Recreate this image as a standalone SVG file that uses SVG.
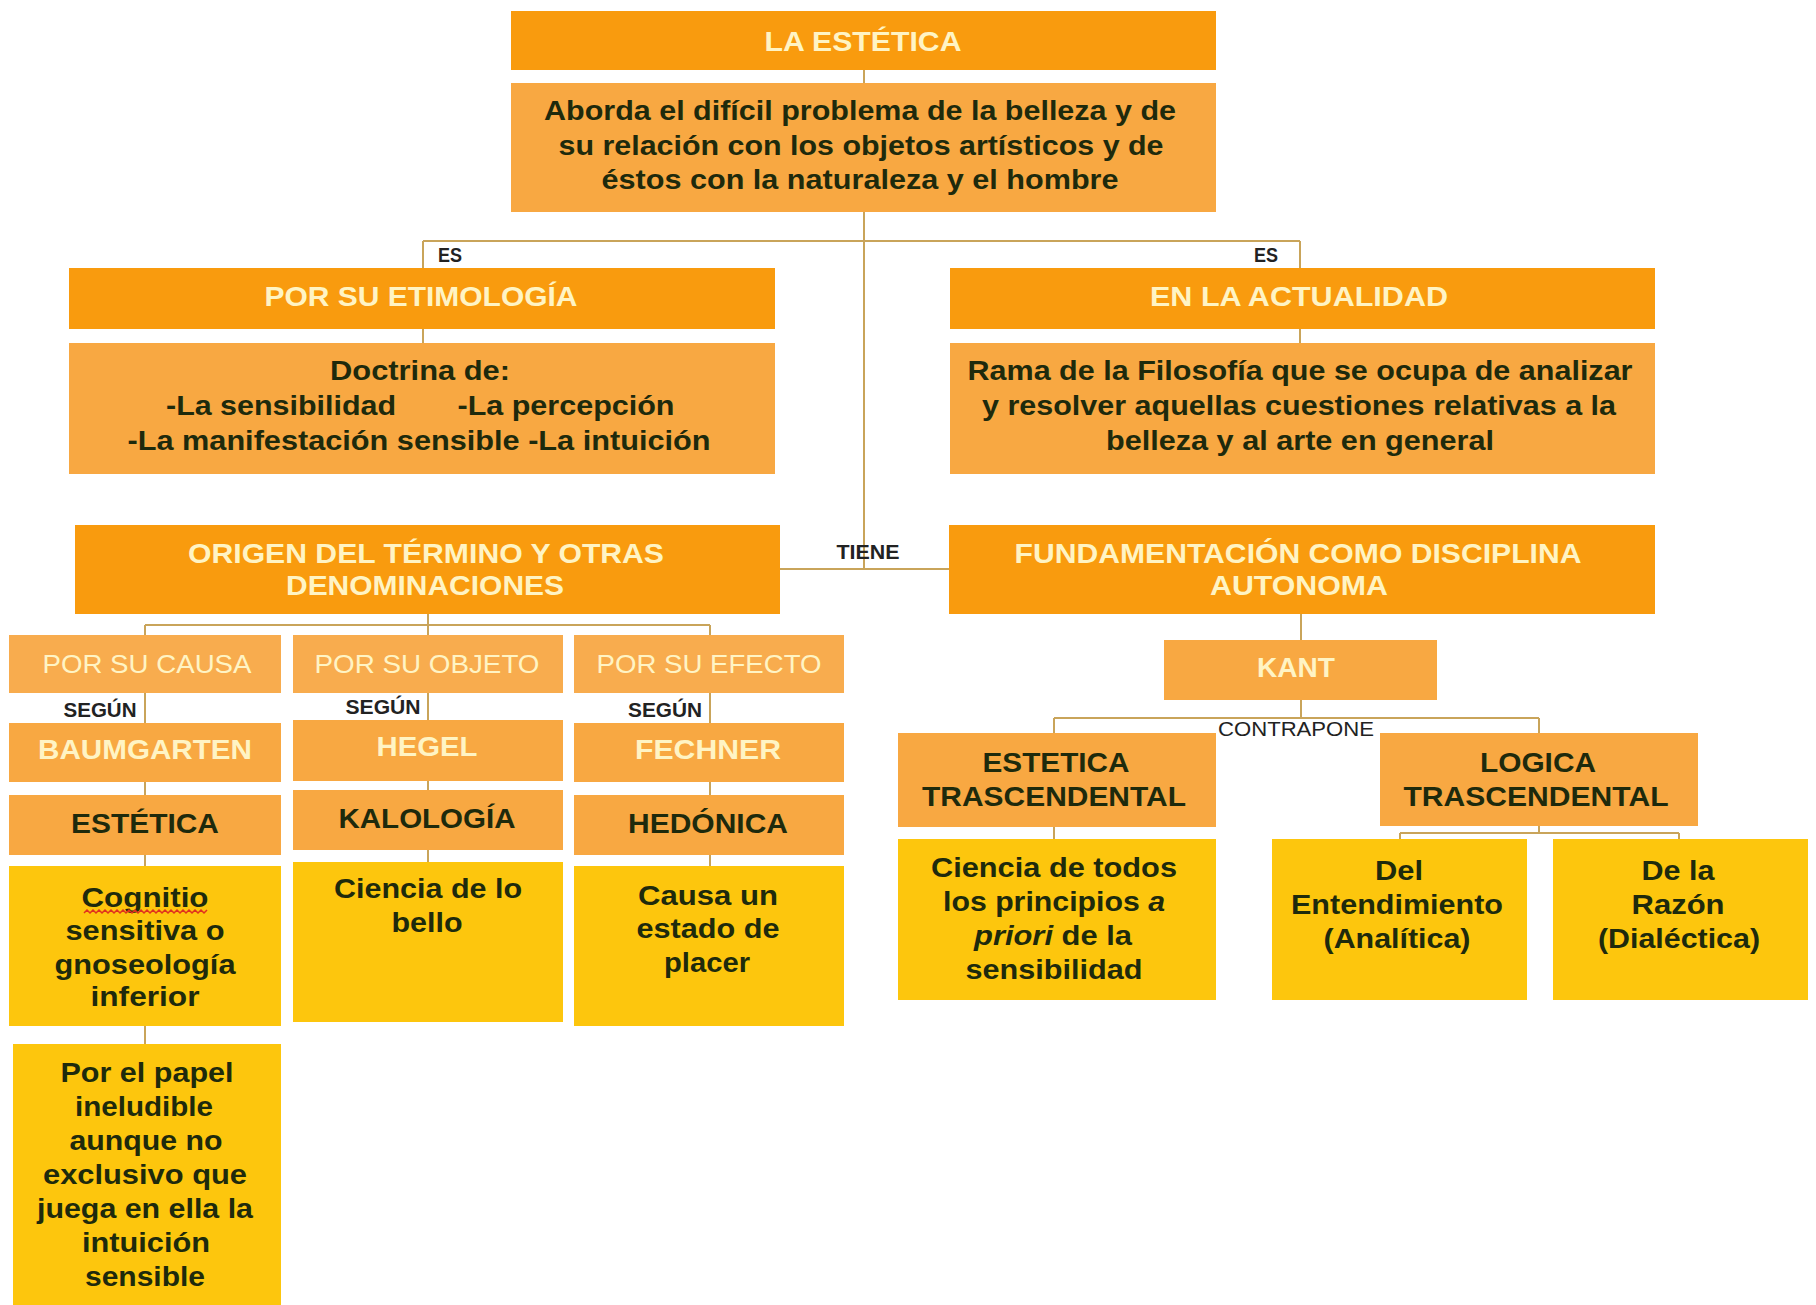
<svg xmlns="http://www.w3.org/2000/svg" width="1816" height="1305" viewBox="0 0 1816 1305">
<style>
.hd{fill:#F99B0E}
.bd{fill:#F8A842}
.lt{fill:#F8AC4E}
.yl{fill:#FDC60D}
.ln{stroke:#C9A45A;stroke-width:2;fill:none}
text{font-family:"Liberation Sans",Arial,sans-serif;text-anchor:middle}
.tc{font-weight:bold;fill:#FFF4C4;font-size:28px}
.tn{font-weight:normal;fill:#FFF4C4;font-size:25px}
.td{font-weight:bold;fill:#1E2A0C;font-size:28px}
.lb{font-weight:bold;fill:#222;font-size:20px}
.lr{font-weight:normal;fill:#222;font-size:20px}
</style>
<rect width="1816" height="1305" fill="#FFFFFF"/>
<g id="connectors">
<path class="ln" d="M864 69 V569"/>
<path class="ln" d="M423 241 H1300"/>
<path class="ln" d="M423 241 V343"/>
<path class="ln" d="M1300 241 V343"/>
<path class="ln" d="M780 569 H949"/>
<path class="ln" d="M428 614 V625"/>
<path class="ln" d="M145 625 H710"/>
<path class="ln" d="M145 625 V1044"/>
<path class="ln" d="M428 625 V862"/>
<path class="ln" d="M710 625 V866"/>
<path class="ln" d="M1301 614 V718"/>
<path class="ln" d="M1054 718 H1539"/>
<path class="ln" d="M1054 718 V839"/>
<path class="ln" d="M1539 718 V833"/>
<path class="ln" d="M1400 833 H1679"/>
<path class="ln" d="M1400 833 V839"/>
<path class="ln" d="M1679 833 V839"/>
</g>
<g id="labels">
<text class="lb" x="450" y="262" textLength="24" lengthAdjust="spacingAndGlyphs">ES</text>
<text class="lb" x="1266" y="262" textLength="24" lengthAdjust="spacingAndGlyphs">ES</text>
<text class="lb" x="868" y="559" font-size="21" textLength="63" lengthAdjust="spacingAndGlyphs">TIENE</text>
<text class="lb" x="100" y="717" textLength="73" lengthAdjust="spacingAndGlyphs">SEGÚN</text>
<text class="lb" x="383" y="714" textLength="75" lengthAdjust="spacingAndGlyphs">SEGÚN</text>
<text class="lb" x="665" y="717" textLength="74" lengthAdjust="spacingAndGlyphs">SEGÚN</text>
<text class="lr" x="1296" y="736" textLength="156" lengthAdjust="spacingAndGlyphs">CONTRAPONE</text>
</g>
<g id="n-estetica">
<rect class="hd" x="511" y="11" width="705" height="59"/>
<text class="tc" x="863" y="51" textLength="197" lengthAdjust="spacingAndGlyphs">LA ESTÉTICA</text>
</g>
<g id="n-aborda">
<rect class="bd" x="511" y="83" width="705" height="129"/>
<text class="td" x="860" y="120" textLength="632" lengthAdjust="spacingAndGlyphs">Aborda el difícil problema de la belleza y de</text>
<text class="td" x="861" y="155" textLength="605" lengthAdjust="spacingAndGlyphs">su relación con los objetos artísticos y de</text>
<text class="td" x="860" y="189" textLength="517" lengthAdjust="spacingAndGlyphs">éstos con la naturaleza y el hombre</text>
</g>
<g id="n-etimologia">
<rect class="hd" x="69" y="268" width="706" height="61"/>
<text class="tc" x="421" y="306" textLength="313" lengthAdjust="spacingAndGlyphs">POR SU ETIMOLOGÍA</text>
</g>
<g id="n-doctrina">
<rect class="bd" x="69" y="343" width="706" height="131"/>
<text class="td" x="420" y="380" textLength="180" lengthAdjust="spacingAndGlyphs">Doctrina de:</text>
<text class="td" x="281" y="415" textLength="230" lengthAdjust="spacingAndGlyphs">-La sensibilidad</text>
<text class="td" x="566" y="415" textLength="217" lengthAdjust="spacingAndGlyphs">-La percepción</text>
<text class="td" x="419" y="450" textLength="583" lengthAdjust="spacingAndGlyphs">-La manifestación sensible -La intuición</text>
</g>
<g id="n-actualidad">
<rect class="hd" x="950" y="268" width="705" height="61"/>
<text class="tc" x="1299" y="306" textLength="298" lengthAdjust="spacingAndGlyphs">EN LA ACTUALIDAD</text>
</g>
<g id="n-rama">
<rect class="bd" x="950" y="343" width="705" height="131"/>
<text class="td" x="1300" y="380" textLength="665" lengthAdjust="spacingAndGlyphs">Rama de la Filosofía que se ocupa de analizar</text>
<text class="td" x="1299" y="415" textLength="634" lengthAdjust="spacingAndGlyphs">y resolver aquellas cuestiones relativas a la</text>
<text class="td" x="1300" y="450" textLength="388" lengthAdjust="spacingAndGlyphs">belleza y al arte en general</text>
</g>
<g id="n-origen">
<rect class="hd" x="75" y="525" width="705" height="89"/>
<text class="tc" x="426" y="563" textLength="476" lengthAdjust="spacingAndGlyphs">ORIGEN DEL TÉRMINO Y OTRAS</text>
<text class="tc" x="425" y="595" textLength="278" lengthAdjust="spacingAndGlyphs">DENOMINACIONES</text>
</g>
<g id="n-fundamentacion">
<rect class="hd" x="949" y="525" width="706" height="89"/>
<text class="tc" x="1298" y="563" textLength="567" lengthAdjust="spacingAndGlyphs">FUNDAMENTACIÓN COMO DISCIPLINA</text>
<text class="tc" x="1299" y="595" textLength="178" lengthAdjust="spacingAndGlyphs">AUTONOMA</text>
</g>
<g id="n-causa">
<rect class="lt" x="9" y="635" width="272" height="58"/>
<text class="tn" x="147" y="673" textLength="209" lengthAdjust="spacingAndGlyphs">POR SU CAUSA</text>
</g>
<g id="n-objeto">
<rect class="lt" x="293" y="635" width="270" height="58"/>
<text class="tn" x="427" y="673" textLength="225" lengthAdjust="spacingAndGlyphs">POR SU OBJETO</text>
</g>
<g id="n-efecto">
<rect class="lt" x="574" y="635" width="270" height="58"/>
<text class="tn" x="709" y="673" textLength="225" lengthAdjust="spacingAndGlyphs">POR SU EFECTO</text>
</g>
<g id="n-baumgarten">
<rect class="bd" x="9" y="723" width="272" height="59"/>
<text class="tc" x="145" y="759" textLength="214" lengthAdjust="spacingAndGlyphs">BAUMGARTEN</text>
</g>
<g id="n-hegel">
<rect class="bd" x="293" y="720" width="270" height="61"/>
<text class="tc" x="427" y="756" textLength="101" lengthAdjust="spacingAndGlyphs">HEGEL</text>
</g>
<g id="n-fechner">
<rect class="bd" x="574" y="723" width="270" height="59"/>
<text class="tc" x="708" y="759" textLength="146" lengthAdjust="spacingAndGlyphs">FECHNER</text>
</g>
<g id="n-estetica2">
<rect class="bd" x="9" y="795" width="272" height="60"/>
<text class="td" x="145" y="833" textLength="148" lengthAdjust="spacingAndGlyphs">ESTÉTICA</text>
</g>
<g id="n-kalologia">
<rect class="bd" x="293" y="790" width="270" height="60"/>
<text class="td" x="427" y="828" textLength="177" lengthAdjust="spacingAndGlyphs">KALOLOGÍA</text>
</g>
<g id="n-hedonica">
<rect class="bd" x="574" y="795" width="270" height="60"/>
<text class="td" x="708" y="833" textLength="160" lengthAdjust="spacingAndGlyphs">HEDÓNICA</text>
</g>
<g id="n-cognitio">
<rect class="yl" x="9" y="866" width="272" height="160"/>
<text class="td" x="145" y="907" textLength="127" lengthAdjust="spacingAndGlyphs">Cognitio</text>
<polyline points="84,913 87,910 90,913 93,910 96,913 99,910 102,913 105,910 108,913 111,910 114,913 117,910 120,913 123,910 126,913 129,910 132,913 135,910 138,913 141,910 144,913 147,910 150,913 153,910 156,913 159,910 162,913 165,910 168,913 171,910 174,913 177,910 180,913 183,910 186,913 189,910 192,913 195,910 198,913 201,910 204,913 207,910" fill="none" stroke="#E0301E" stroke-width="1.5"/>
<text class="td" x="145" y="940" textLength="159" lengthAdjust="spacingAndGlyphs">sensitiva o</text>
<text class="td" x="145" y="974" textLength="181" lengthAdjust="spacingAndGlyphs">gnoseología</text>
<text class="td" x="145" y="1006" textLength="109" lengthAdjust="spacingAndGlyphs">inferior</text>
</g>
<g id="n-ciencia-bello">
<rect class="yl" x="293" y="862" width="270" height="160"/>
<text class="td" x="428" y="898" textLength="188" lengthAdjust="spacingAndGlyphs">Ciencia de lo</text>
<text class="td" x="427" y="932" textLength="71" lengthAdjust="spacingAndGlyphs">bello</text>
</g>
<g id="n-placer">
<rect class="yl" x="574" y="866" width="270" height="160"/>
<text class="td" x="708" y="905" textLength="140" lengthAdjust="spacingAndGlyphs">Causa un</text>
<text class="td" x="708" y="938" textLength="143" lengthAdjust="spacingAndGlyphs">estado de</text>
<text class="td" x="707" y="972" textLength="86" lengthAdjust="spacingAndGlyphs">placer</text>
</g>
<g id="n-papel">
<rect class="yl" x="13" y="1044" width="268" height="261"/>
<text class="td" x="147" y="1082" font-size="27" textLength="173" lengthAdjust="spacingAndGlyphs">Por el papel</text>
<text class="td" x="144" y="1116" font-size="27" textLength="138" lengthAdjust="spacingAndGlyphs">ineludible</text>
<text class="td" x="146" y="1150" font-size="27" textLength="153" lengthAdjust="spacingAndGlyphs">aunque no</text>
<text class="td" x="145" y="1184" font-size="27" textLength="204" lengthAdjust="spacingAndGlyphs">exclusivo que</text>
<text class="td" x="145" y="1218" font-size="27" textLength="216" lengthAdjust="spacingAndGlyphs">juega en ella la</text>
<text class="td" x="146" y="1252" font-size="27" textLength="128" lengthAdjust="spacingAndGlyphs">intuición</text>
<text class="td" x="145" y="1286" font-size="27" textLength="120" lengthAdjust="spacingAndGlyphs">sensible</text>
</g>
<g id="n-kant">
<rect class="bd" x="1164" y="640" width="273" height="60"/>
<text class="tc" x="1296" y="677" textLength="78" lengthAdjust="spacingAndGlyphs">KANT</text>
</g>
<g id="n-est-trasc">
<rect class="bd" x="898" y="733" width="318" height="94"/>
<text class="td" x="1056" y="772" textLength="147" lengthAdjust="spacingAndGlyphs">ESTETICA</text>
<text class="td" x="1054" y="806" textLength="264" lengthAdjust="spacingAndGlyphs">TRASCENDENTAL</text>
</g>
<g id="n-log-trasc">
<rect class="bd" x="1380" y="733" width="318" height="93"/>
<text class="td" x="1538" y="772" textLength="116" lengthAdjust="spacingAndGlyphs">LOGICA</text>
<text class="td" x="1536" y="806" textLength="265" lengthAdjust="spacingAndGlyphs">TRASCENDENTAL</text>
</g>
<g id="n-principios">
<rect class="yl" x="898" y="839" width="318" height="161"/>
<text class="td" x="1054" y="877" textLength="246" lengthAdjust="spacingAndGlyphs">Ciencia de todos</text>
<text class="td" x="1054" y="911" textLength="222" lengthAdjust="spacingAndGlyphs">los principios <tspan font-style="italic">a</tspan></text>
<text class="td" x="1053" y="945" textLength="158" lengthAdjust="spacingAndGlyphs"><tspan font-style="italic">priori</tspan> de la</text>
<text class="td" x="1054" y="979" textLength="177" lengthAdjust="spacingAndGlyphs">sensibilidad</text>
</g>
<g id="n-entendimiento">
<rect class="yl" x="1272" y="839" width="255" height="161"/>
<text class="td" x="1399" y="880" textLength="48" lengthAdjust="spacingAndGlyphs">Del</text>
<text class="td" x="1397" y="914" textLength="212" lengthAdjust="spacingAndGlyphs">Entendimiento</text>
<text class="td" x="1397" y="948" textLength="147" lengthAdjust="spacingAndGlyphs">(Analítica)</text>
</g>
<g id="n-razon">
<rect class="yl" x="1553" y="839" width="255" height="161"/>
<text class="td" x="1678" y="880" textLength="73" lengthAdjust="spacingAndGlyphs">De la</text>
<text class="td" x="1678" y="914" textLength="93" lengthAdjust="spacingAndGlyphs">Razón</text>
<text class="td" x="1679" y="948" textLength="162" lengthAdjust="spacingAndGlyphs">(Dialéctica)</text>
</g>
</svg>
